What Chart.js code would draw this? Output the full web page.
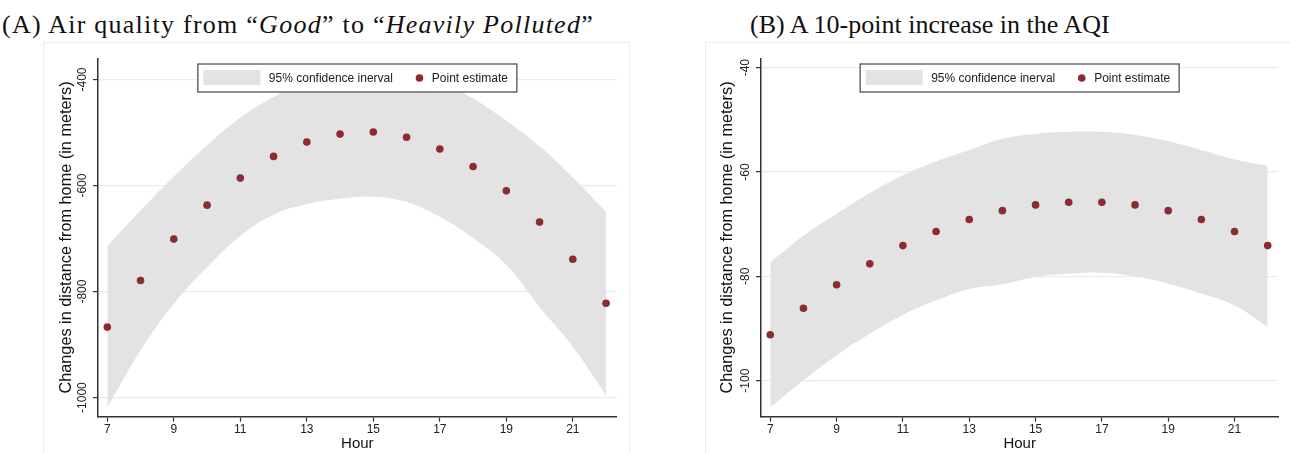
<!DOCTYPE html>
<html>
<head>
<meta charset="utf-8">
<script src="https://cdn.jsdelivr.net/npm/chart.js@4.4.1/dist/chart.umd.min.js"></script>
<style>
    body { margin: 0; background: #fff; width: 1290px; height: 453px; overflow: hidden; position: relative; }
    .title { position: absolute; top: 10px; line-height: 30px; font-family: "Liberation Serif", "DejaVu Serif", serif; font-size: 26px; color: #111; white-space: nowrap; }
    .frame { position: absolute; top: 42px; height: 420px; border: 1px solid #ececec; box-sizing: border-box; }
    .box { position: absolute; top: 42px; height: 411px; }
</style>
</head>
<body>
<div class="title" id="titleA" style="left:2px;letter-spacing:1.25px">(A) Air quality from “<i>Good</i>” to “<i>Heavily Polluted</i>”</div>
<div class="title" id="titleB" style="left:750px">(B) A 10-point increase in the AQI</div>
<div class="frame" style="left:43px;width:587px"></div>
<div class="frame" style="left:705px;width:600px"></div>
<div class="box" style="left:43px;width:587px"><canvas id="chartA"></canvas></div>
<div class="box" style="left:705px;width:585px"><canvas id="chartB"></canvas></div>
<script>
// hours on the x axis
const hours = [7, 8, 9, 10, 11, 12, 13, 14, 15, 16, 17, 18, 19, 20, 21, 22];
const xTicks = [7, 9, 11, 13, 15, 17, 19, 21];

// panel A: Good -> Heavily Polluted
const aPoint = [-867, -779, -701, -637, -586, -545, -518, -503, -499, -509, -531, -564, -610, -669, -739, -822];
const aUpper = [-714, -647, -583, -524, -472, -433, -402, -383, -377, -387, -405, -436, -478, -526, -585, -650];
const aLower = [-1018, -911, -823, -754, -695, -655, -635, -625, -621, -631, -659, -699, -750, -829, -904, -996];
const aYTicks = [-1000, -800, -600, -400];

// panel B: 10-point AQI increase
const bPoint = [-91.2, -86.1, -81.6, -77.6, -74.1, -71.4, -69.1, -67.4, -66.3, -65.8, -65.8, -66.3, -67.4, -69.1, -71.4, -74.1];
const bUpper = [-77.3, -72.2, -68.0, -64.0, -60.6, -58.0, -55.8, -53.6, -52.7, -52.3, -52.3, -52.9, -54.1, -55.8, -57.6, -58.8];
const bLower = [-105.1, -99.9, -95.1, -91.0, -87.4, -84.6, -82.4, -81.5, -80.1, -79.5, -79.3, -80.0, -81.4, -83.3, -85.6, -89.7];
const bYTicks = [-100, -80, -60, -40];

const legendLabels = ['95% confidence inerval', 'Point estimate'];
const yTitle = 'Changes in distance from home (in meters)';
const xTitle = 'Hour';

const sans = '"Liberation Sans", Arial, sans-serif';
const bandColor = '#e3e3e3';
const dotColor = '#8d2a34';

// y tick labels are vertical in the original
const yTickLabels = {
    id: 'yTickLabels',
    afterDraw(chart) {
        const s = chart.scales.y, ctx = chart.ctx;
        ctx.save();
        ctx.font = '12px ' + sans;
        ctx.fillStyle = '#222';
        ctx.textAlign = 'center';
        ctx.textBaseline = 'middle';
        s.ticks.forEach(t => {
            ctx.save();
            ctx.translate(s.right - 15.5, s.getPixelForValue(t.value));
            ctx.rotate(-Math.PI / 2);
            ctx.fillText(String(t.value), 0, 0);
            ctx.restore();
        });
        ctx.restore();
    }
};

// boxed legend inside the plot
const boxLegend = {
    id: 'boxLegend',
    afterDraw(chart) {
        const ctx = chart.ctx, area = chart.chartArea;
        const w = 319, h = 28;
        const left = (area.left + area.right) / 2 - w / 2;
        const top = area.top + 5.7;
        ctx.save();
        ctx.fillStyle = '#fff';
        ctx.fillRect(left, top, w, h);
        ctx.strokeStyle = '#444';
        ctx.lineWidth = 1.2;
        ctx.strokeRect(left, top, w, h);
        ctx.fillStyle = bandColor;
        ctx.fillRect(left + 5.6, top + 6, 57, 15);
        ctx.font = '12px ' + sans;
        ctx.fillStyle = '#222';
        ctx.textBaseline = 'middle';
        ctx.fillText(legendLabels[0], left + 71, top + h / 2 + 0.5);
        ctx.fillStyle = dotColor;
        ctx.beginPath();
        ctx.arc(left + 221.6, top + h / 2, 3.8, 0, Math.PI * 2);
        ctx.fill();
        ctx.fillStyle = '#222';
        ctx.fillText(legendLabels[1], left + 234, top + h / 2 + 0.5);
        ctx.restore();
    }
};

function makeChart(id, point, upper, lower, yTicks, yMin, yMax, yWidth, padRight, titlePad) {
    const toXY = arr => arr.map((v, i) => ({ x: hours[i], y: v }));
    return new Chart(document.getElementById(id), {
        type: 'line',
        data: {
            datasets: [
                { data: toXY(point), showLine: false, pointRadius: 3.8, pointBackgroundColor: dotColor, pointBorderWidth: 0, order: 0 },
                { data: toXY(upper), borderWidth: 0, pointRadius: 0, fill: '+1', backgroundColor: bandColor, tension: 0.4, order: 1 },
                { data: toXY(lower), borderWidth: 0, pointRadius: 0, fill: false, tension: 0.4, order: 2 }
            ]
        },
        options: {
            responsive: true,
            maintainAspectRatio: false,
            animation: false,
            layout: { padding: { left: 0, right: padRight, top: 16.3, bottom: 0 } },
            plugins: { legend: { display: false }, tooltip: { enabled: false } },
            scales: {
                x: {
                    type: 'linear',
                    min: 6.72,
                    max: 22.32,
                    afterBuildTicks: s => { s.ticks = xTicks.map(v => ({ value: v })); },
                    afterFit: s => { s.height = 36.3; },
                    grid: { drawOnChartArea: false, tickLength: 5, tickColor: '#333', tickWidth: 1.2 },
                    border: { color: '#333', width: 1.5 },
                    ticks: { padding: 1, color: '#222', font: { family: sans, size: 12 } },
                    title: { display: true, text: xTitle, color: '#111', font: { family: sans, size: 15 }, padding: { top: 0, bottom: 0 } }
                },
                y: {
                    min: yMin,
                    max: yMax,
                    afterBuildTicks: s => { s.ticks = yTicks.map(v => ({ value: v })); },
                    afterFit: s => { s.width = yWidth; },
                    grid: { color: '#e4edf0', lineWidth: 1.2, tickLength: 5, tickColor: '#333', tickWidth: 1.2 },
                    border: { color: '#333', width: 1.5 },
                    ticks: { display: false },
                    title: { display: true, text: yTitle, color: '#111', font: { family: sans, size: 16.3 }, padding: { top: titlePad, bottom: 0 } }
                }
            }
        },
        plugins: [yTickLabels, boxLegend]
    });
}

makeChart('chartA', aPoint, aUpper, aLower, aYTicks, -1036, -360, 55, 13.3, 13.9);
makeChart('chartB', bPoint, bUpper, bLower, bYTicks, -106.9, -38.2, 56, 11.7, 13.2);
</script>
</body>
</html>
